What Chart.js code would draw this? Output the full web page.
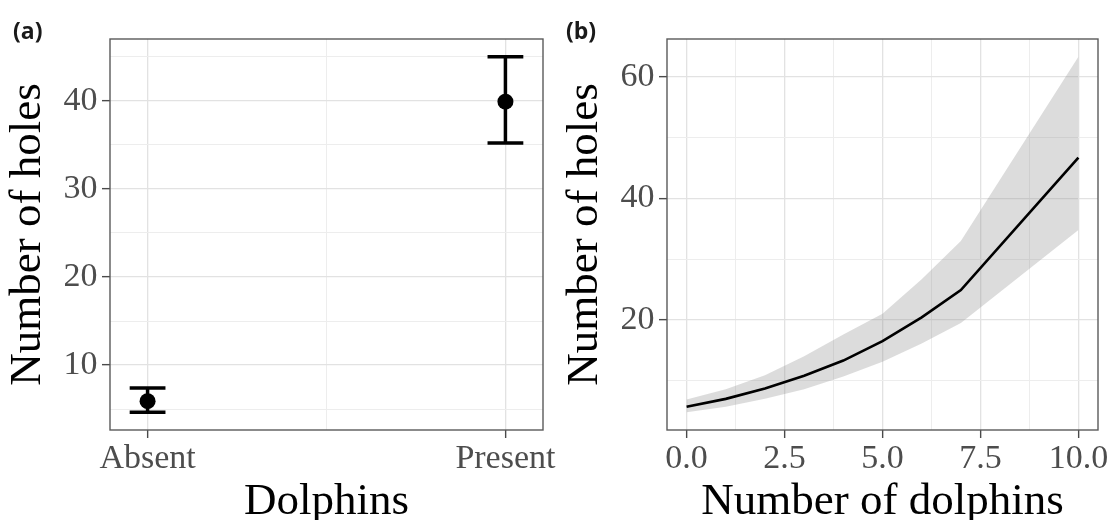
<!DOCTYPE html>
<html>
<head>
<meta charset="utf-8">
<script src="https://cdn.jsdelivr.net/npm/chart.js@4.4.1/dist/chart.umd.min.js"></script>
<style>
  html, body { margin: 0; padding: 0; background: #ffffff; }
  #wrap { position: relative; width: 1113px; height: 520px; overflow: hidden; background: #fff; }
  #ca { position: absolute; left: 0; top: 0; }
  #cb { position: absolute; left: 556px; top: 0; }
  .plab { position: absolute; font: bold 23px "Open Sans", "Liberation Sans", Arial, sans-serif; line-height: 23px; color: #1a1a1a; }
</style>
</head>
<body>
<div id="wrap">
  <canvas id="ca" width="556" height="520"></canvas>
  <canvas id="cb" width="557" height="520"></canvas>
  <div class="plab" style="left:13px; top:19px;">(a)</div>
  <div class="plab" style="left:566px; top:19px;">(b)</div>
</div>
<script>
// ---------- data: panel (a) ----------
const categories = ['Absent', 'Present'];
const catPos = [1, 2];
const meanHoles = [5.9, 39.9];
const lowerHoles = [4.65, 35.2];
const upperHoles = [7.4, 45.0];

// ---------- data: panel (b) ----------
const dolphinCounts = [0, 1, 2, 3, 4, 5, 6, 7, 10];
const fitHoles  = [5.7, 7.0, 8.7, 10.8, 13.3, 16.5, 20.4, 24.9, 46.7];
const fitLower  = [4.8, 5.7, 7.0, 8.6, 10.7, 13.1, 16.1, 19.5, 34.8];
const fitUpper  = [6.9, 8.6, 10.9, 14.0, 17.6, 21.0, 26.7, 33.0, 63.3];

// ---------- tick labels ----------
const yTicksA = [10, 20, 30, 40];
const yMinorA = [5, 15, 25, 35, 45];
const xMinorA = [1.5];
const xTicksB = [0, 2.5, 5, 7.5, 10];
const xTickLabelsB = ['0.0', '2.5', '5.0', '7.5', '10.0'];
const xMinorB = [1.25, 3.75, 6.25, 8.75];
const yTicksB = [20, 40, 60];
const yMinorB = [10, 30, 50];

// ---------- styling ----------
const ERR_W = 0.1;
const SERIF = '"Liberation Serif", "Times New Roman", serif';

function expand(lo, hi) {
  const r = hi - lo;
  return [lo - 0.05 * r, hi + 0.05 * r];
}

function axisOpts(o) {
  const isMajor = v => o.major.includes(v);
  return {
    type: 'linear',
    min: o.min, max: o.max,
    afterBuildTicks: s => {
      s.ticks = [...o.major, ...o.minor].sort((a, b) => a - b).map(v => ({ value: v }));
    },
    afterFit: s => {
      if (o.isX) { s.height = 90; s.paddingLeft = 0; s.paddingRight = 0; }
      else { s.width = o.width; s.paddingTop = 0; s.paddingBottom = 0; }
    },
    grid: {
      color: c => (c.tick && isMajor(c.tick.value)) ? '#e2e2e2' : '#ededed',
      lineWidth: c => (c.tick && isMajor(c.tick.value)) ? 1.3 : 1,
      tickLength: 8,
      tickColor: c => (c.tick && isMajor(c.tick.value)) ? '#4a4a4a' : 'rgba(0,0,0,0)',
      tickWidth: 1.4,
      drawTicks: true
    },
    border: { display: false },
    ticks: {
      autoSkip: false, maxRotation: 0, minRotation: 0,
      padding: o.isX ? 1 : 4.5,
      color: '#4d4d4d',
      font: { family: SERIF, size: 34, lineHeight: 1.2 },
      callback: v => isMajor(v) ? o.labelFor(v) : ''
    },
    title: {
      display: true, text: o.title, color: '#000',
      font: { family: SERIF, size: 45, lineHeight: o.isX ? 0.8 : 1 },
      padding: o.isX ? { top: 0, bottom: 0 } : { top: o.titlePad, bottom: 0 }
    }
  };
}

const boxPlugin = {
  id: 'panelBox',
  afterDatasetsDraw(chart) {
    const { ctx, chartArea: a } = chart;
    ctx.save();
    ctx.strokeStyle = '#5a5a5a';
    ctx.lineWidth = 1.4;
    ctx.strokeRect(a.left, a.top, a.right - a.left, a.bottom - a.top);
    ctx.restore();
  }
};

const commonPlugins = { legend: { display: false }, tooltip: { enabled: false } };

// ---------- panel (a) ----------
const [xMinA, xMaxA] = expand(catPos[0] - ERR_W / 2, catPos[catPos.length - 1] + ERR_W / 2);
const [yMinA, yMaxA] = expand(Math.min(...lowerHoles), Math.max(...upperHoles));

const dsA = [{
  data: catPos.map((x, i) => ({ x, y: meanHoles[i] })),
  showLine: false, pointRadius: 8, pointHoverRadius: 8,
  pointBackgroundColor: '#000', pointBorderColor: '#000', pointBorderWidth: 0
}];
catPos.forEach((x, i) => {
  const seg = pts => ({ data: pts, showLine: true, borderColor: '#000', borderWidth: 3.5, pointRadius: 0, fill: false });
  dsA.push(seg([{ x, y: lowerHoles[i] }, { x, y: upperHoles[i] }]));
  dsA.push(seg([{ x: x - ERR_W / 2, y: upperHoles[i] }, { x: x + ERR_W / 2, y: upperHoles[i] }]));
  dsA.push(seg([{ x: x - ERR_W / 2, y: lowerHoles[i] }, { x: x + ERR_W / 2, y: lowerHoles[i] }]));
});

new Chart(document.getElementById('ca'), {
  type: 'line',
  data: { datasets: dsA },
  options: {
    responsive: false, animation: false, devicePixelRatio: 1,
    layout: { padding: { top: 39, left: 0, right: 13, bottom: 0 } },
    plugins: commonPlugins,
    scales: {
      x: axisOpts({ isX: true, min: xMinA, max: xMaxA, major: catPos, minor: xMinorA,
                    labelFor: v => categories[catPos.indexOf(v)], title: 'Dolphins' }),
      y: axisOpts({ isX: false, min: yMinA, max: yMaxA, major: yTicksA, minor: yMinorA,
                    labelFor: v => String(v), title: 'Number of holes', width: 110, titlePad: 5.5 })
    }
  },
  plugins: [boxPlugin]
});

// ---------- panel (b) ----------
const [xMinB, xMaxB] = expand(Math.min(...dolphinCounts), Math.max(...dolphinCounts));
const [yMinB, yMaxB] = expand(Math.min(...fitLower), Math.max(...fitUpper));

new Chart(document.getElementById('cb'), {
  type: 'line',
  data: {
    datasets: [
      { data: dolphinCounts.map((x, i) => ({ x, y: fitHoles[i] })),
        borderColor: '#000', borderWidth: 2.6, pointRadius: 0, fill: false, tension: 0 },
      { data: dolphinCounts.map((x, i) => ({ x, y: fitUpper[i] })),
        borderWidth: 0, borderColor: 'rgba(0,0,0,0)', pointRadius: 0,
        fill: '+1', backgroundColor: 'rgba(140,140,140,0.3)', tension: 0 },
      { data: dolphinCounts.map((x, i) => ({ x, y: fitLower[i] })),
        borderWidth: 0, borderColor: 'rgba(0,0,0,0)', pointRadius: 0, fill: false, tension: 0 }
    ]
  },
  options: {
    responsive: false, animation: false, devicePixelRatio: 1,
    layout: { padding: { top: 39, left: 0, right: 15, bottom: 0 } },
    plugins: commonPlugins,
    scales: {
      x: axisOpts({ isX: true, min: xMinB, max: xMaxB, major: xTicksB, minor: xMinorB,
                    labelFor: v => xTickLabelsB[xTicksB.indexOf(v)], title: 'Number of dolphins' }),
      y: axisOpts({ isX: false, min: yMinB, max: yMaxB, major: yTicksB, minor: yMinorB,
                    labelFor: v => String(v), title: 'Number of holes', width: 111, titlePad: 6.5 })
    }
  },
  plugins: [boxPlugin]
});
</script>
</body>
</html>
